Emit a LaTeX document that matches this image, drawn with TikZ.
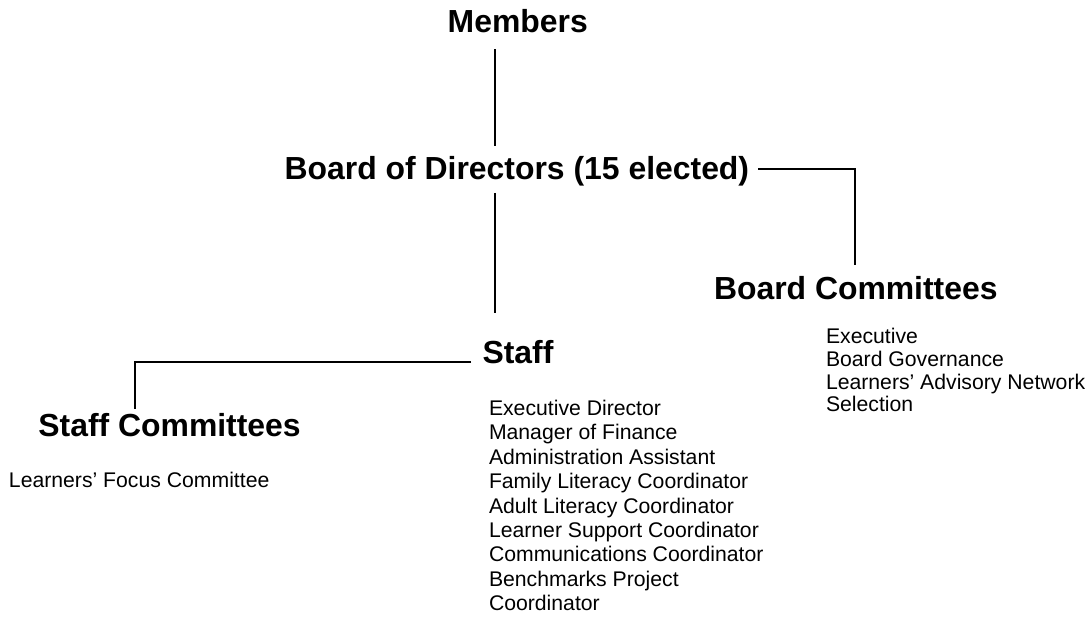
\documentclass[tikz,border=0pt]{standalone}
\usepackage{fontspec}
\setmainfont{Liberation Sans}
\usetikzlibrary{calc}
\newcommand\headfont{\fontsize{31.9}{36}\selectfont\bfseries}
\newcommand\itemfont{\fontsize{21.2}{24.4}\selectfont}
\begin{document}
\begin{tikzpicture}[x=1pt,y=-1pt,
  head/.style={font=\headfont, inner sep=0pt, outer sep=0pt, anchor=base west},
  item/.style={font=\itemfont, inner sep=0pt, outer sep=0pt, anchor=base west},
  link/.style={line width=1.3pt, black}]
\useasboundingbox (0,0) rectangle (1091,616);
% headings
\node[head] (members) at (447.7,32.3) {Members};
\node[head] (board) at (284.7,179) {Board of Directors (15 elected)};
\node[head] (bcomm) at (714,299.5) {Board Committees};
\node[head] (staff) at (482.5,363.3) {Staff};
\node[head] (scomm) at (38.4,436.5) {Staff Committees};
% lists
\node[item] (lfc) at (9,487.5) {Learners’ Focus Committee};
\foreach \t [count=\i] in {Executive Director, Manager of Finance, Administration Assistant,
  Family Literacy Coordinator, Adult Literacy Coordinator, Learner Support Coordinator,
  Communications Coordinator, Benchmarks Project, Coordinator}
  \node[item] (staff\i) at (489,{415.5+24.4*(\i-1)}) {\t};
\foreach \t [count=\i] in {Executive, Board Governance, Learners’ Advisory Network, Selection}
  \node[item] (bc\i) at (826,{343.5+22.8*(\i-1)}) {\t};
% connector guides
\coordinate (trunk) at (495,0);
\coordinate (rturn) at (855,0);
\coordinate (lturn) at (135,0);
% connectors
\draw[link] ($(members.south -| trunk)+(0,16.7)$) -- ($(board.north -| trunk)+(0,-9.7)$);
\draw[link] ($(board.south -| trunk)+(0,7.3)$) -- ($(staff.north -| trunk)+(0,-26.9)$);
\draw[link] ($(board.east)+(8.9,-1.7)$) -| ($(bcomm.north -| rturn)+(0,-11.2)$);
\draw[link] ($(staff.base west)+(-11.5,-1.3)$) -| ($(scomm.north -| lturn)+(0,-4.6)$);
\end{tikzpicture}
\end{document}
